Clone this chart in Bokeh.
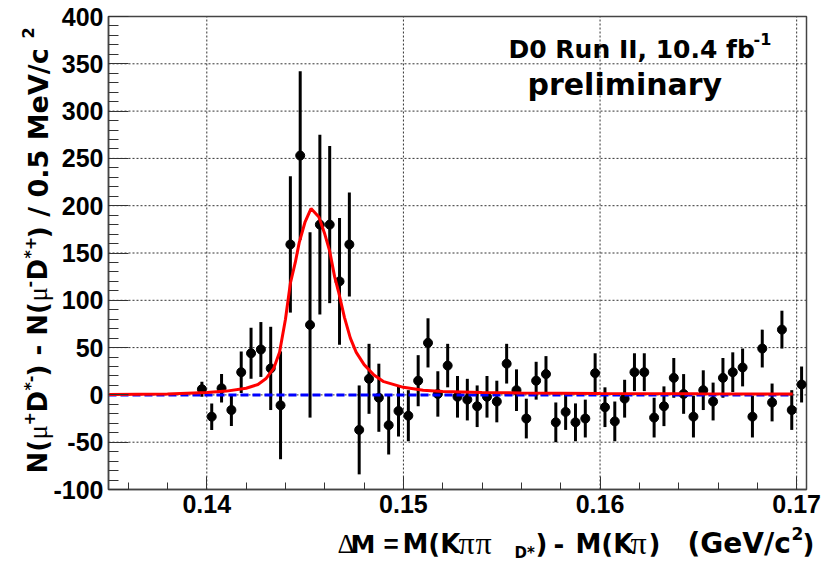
import math
from bokeh.plotting import figure
from bokeh.models import Range1d, FixedTicker, Label, ColumnDataSource, LinearAxis, Grid
from bokeh.embed import file_html
from bokeh.resources import INLINE

# Delta-M bin centres (GeV/c^2), 0.5 MeV bins
dm = [0.13975, 0.14025, 0.14075, 0.14125, 0.14175, 0.14225, 0.14275, 0.14325,
      0.14375, 0.14425, 0.14475, 0.14525, 0.14575, 0.14625, 0.14675, 0.14725,
      0.14775, 0.14825, 0.14875, 0.14925, 0.14975, 0.15025, 0.15075, 0.15125,
      0.15175, 0.15225, 0.15275, 0.15325, 0.15375, 0.15425, 0.15475, 0.15525,
      0.15575, 0.15625, 0.15675, 0.15725, 0.15775, 0.15825, 0.15875, 0.15925,
      0.15975, 0.16025, 0.16075, 0.16125, 0.16175, 0.16225, 0.16275, 0.16325,
      0.16375, 0.16425, 0.16475, 0.16525, 0.16575, 0.16625, 0.16675, 0.16725,
      0.16775, 0.16825, 0.16875, 0.16925, 0.16975, 0.17025]

# N(mu+ D*-) - N(mu- D*+) per bin
diff = [6, -23, 7, -16, 24, 44, 48, 28,
        -11, 159, 253, 74, 180, 180, 120, 159,
        -37, 17, -3, -32, -17, -22, 15, 55,
        1, 31, -2, -5, -12, -2, -7, 33,
        5, -25, 15, 22, -29, -18, -29, -25,
        23, -13, -28, -4, 24, 24, -24, -12,
        18, 1, -23, 5, -7, 18, 24, 29,
        -23, 49, -8, 69, -16, 11]

err = [8, 14, 15, 17, 22, 27, 29, 44,
       57, 72, 89, 98, 95, 83, 67, 55,
       47, 37, 36, 31, 27, 27, 27, 26,
       24, 23, 22, 22, 22, 22, 22, 21,
       22, 21, 20, 19, 21, 19, 20, 20,
       21, 21, 21, 20, 20, 20, 21, 21,
       21, 21, 22, 21, 20, 21, 21, 20,
       22, 20, 20, 20, 21, 19]

# fitted signal + background curve
fit_x = [0.1350, 0.1380, 0.1400, 0.1410, 0.1420, 0.1426, 0.1430, 0.1434, 0.1437,
         0.1440, 0.14425, 0.1445, 0.1447, 0.1450, 0.1453, 0.1457, 0.1460, 0.14625,
         0.1465, 0.1467, 0.1470, 0.1473, 0.1476, 0.1480, 0.1485, 0.1490, 0.1500,
         0.1510, 0.1520, 0.1540, 0.1560, 0.1600, 0.1650, 0.1698]
fit_y = [0.5, 1, 2.5, 4, 7, 11, 17, 28, 45,
         80, 118, 140, 161, 183, 197, 188, 170, 152,
         125, 109, 82, 60, 45, 32, 21, 14, 8,
         5, 3.5, 2.5, 2, 1.5, 1.2, 1]

# background component
bkg_x = [0.1350, 0.1698]
bkg_y = [0, 0]

x_ticks = [0.14, 0.15, 0.16, 0.17]
y_ticks = [-100, -50, 0, 50, 100, 150, 200, 250, 300, 350, 400]
x_grid = [0.14, 0.15, 0.16, 0.17]
y_grid = [-50, 0, 50, 100, 150, 200, 250, 300, 350]

# axis box in data units and where it sits on the canvas (pixels)
X0, X1, Y0, Y1 = 0.135, 0.1705, -100, 400
W, H = 826, 564
BOX_L, BOX_R, BOX_T, BOX_B = 108, 806, 16, 489
SX = (X1 - X0) / (BOX_R - BOX_L)
SY = (Y1 - Y0) / (BOX_B - BOX_T)


def dx(px):
    return X0 + (px - BOX_L) * SX


def dy(py):
    return Y0 + (BOX_B - py) * SY


p = figure(width=W, height=H,
           x_range=Range1d(dx(0), dx(W)), y_range=Range1d(dy(H), dy(0)),
           output_backend="svg", toolbar_location=None, title=None,
           x_axis_location=None, y_axis_location=None,
           min_border=0, min_border_left=0, min_border_right=0,
           min_border_top=0, min_border_bottom=0)
p.center = [r for r in p.center if not isinstance(r, Grid)]
p.background_fill_color = "white"
p.border_fill_color = "white"
p.outline_line_color = None

# dotted grid inside the axis box
p.segment(x0=x_grid, x1=x_grid, y0=[Y0] * len(x_grid), y1=[Y1] * len(x_grid),
          line_color="#333333", line_width=1, line_dash="2 2")
p.segment(x0=[X0] * len(y_grid), x1=[X1] * len(y_grid), y0=y_grid, y1=y_grid,
          line_color="#333333", line_width=1, line_dash="2 2")

# axes pinned to the box edges
xaxis = LinearAxis(fixed_location=Y0, bounds=(X0, X1),
                   ticker=FixedTicker(ticks=x_ticks,
                                      minor_ticks=[round(0.136 + 0.002 * i, 4) for i in range(18)]))
yaxis = LinearAxis(fixed_location=X0, bounds=(Y0, Y1),
                   ticker=FixedTicker(ticks=y_ticks, minor_ticks=list(range(-100, 401, 10))))
xaxis.major_label_overrides = {t: f"{t:.2f}" for t in x_ticks}
yaxis.major_label_overrides = {t: str(t) for t in y_ticks}
for ax in (xaxis, yaxis):
    ax.major_tick_out = 0
    ax.minor_tick_out = 0
    ax.major_tick_line_color = "#333333"
    ax.minor_tick_line_color = "#333333"
    ax.axis_line_color = "#444444"
    ax.axis_line_width = 1.5
    ax.major_label_text_font = "Liberation Sans"
    ax.major_label_text_font_style = "bold"
    ax.major_label_text_font_size = "25px"
    ax.major_label_text_color = "black"
xaxis.major_tick_in = 13
xaxis.minor_tick_in = 7
yaxis.major_tick_in = 20
yaxis.minor_tick_in = 10
xaxis.major_label_standoff = 5
yaxis.major_label_standoff = 5
p.add_layout(xaxis, "below")
p.add_layout(yaxis, "left")

# top and right edges of the box
p.quad(left=[X0], right=[X1], bottom=[Y0], top=[Y1], fill_color=None,
       line_color="#444444", line_width=1.5)

# data points with vertical error bars
src = ColumnDataSource(dict(x=dm, y=diff,
                            lo=[v - e for v, e in zip(diff, err)],
                            hi=[v + e for v, e in zip(diff, err)]))
p.segment(x0="x", y0="lo", x1="x", y1="hi", source=src, line_color="black", line_width=3)
p.scatter(x="x", y="y", source=src, size=9, color="black", marker="circle")

# background and total fit
p.line(bkg_x, bkg_y, line_color="#0000ff", line_width=3, line_dash="8 4")
p.line(fit_x, fit_y, line_color="#ff0000", line_width=3)

SANS, SERIF, ARIAL = "DejaVu Sans", "Liberation Serif", "Liberation Sans"
DROP = 0.27  # distance from the label anchor down to the glyph baseline, in ems


def put(text, px, py, size, font=SANS, style="bold"):
    """Horizontal text whose baseline starts at canvas pixel (px, py)."""
    p.add_layout(Label(x=dx(px), y=dy(py - DROP * size), text=text, text_font=font,
                       text_font_size=f"{size}px", text_font_style=style,
                       text_color="black", text_align="left",
                       text_baseline="alphabetic"))


def put_up(text, px, py, size, font=SANS, style="bold"):
    """Text running upwards, baseline on the vertical line x = px, starting at py."""
    p.add_layout(Label(x=dx(px - DROP * size), y=dy(py), text=text, text_font=font,
                       text_font_size=f"{size}px", text_font_style=style,
                       text_color="black", text_align="left",
                       text_baseline="alphabetic", angle=math.pi / 2))


# x-axis title: Delta M = M(K pi pi_D*) - M(K pi)   (GeV/c^2)
xb = 551
for txt, px, size, font, style, base in [
        ("\u0394", 337, 27, SERIF, "normal", xb),
        ("M", 350, 25, SANS, "bold", xb),
        ("=", 383, 26, ARIAL, "bold", xb),
        ("M(K", 402, 26, SANS, "bold", xb),
        ("\u03c0", 458, 32, SERIF, "normal", xb),
        ("\u03c0", 475, 32, SERIF, "normal", xb),
        ("D*", 514, 15, SANS, "bold", xb + 6),
        (")", 535, 26, SANS, "bold", xb),
        ("-", 553, 26, SANS, "bold", xb),
        ("M(K", 575, 26, SANS, "bold", xb),
        ("\u03c0", 630, 32, SERIF, "normal", xb),
        (")", 648, 26, SANS, "bold", xb),
        ("(GeV/c", 687, 28, SANS, "bold", xb),
        ("2", 791, 17, SANS, "bold", xb - 13),
        (")", 802, 26, SANS, "bold", xb)]:
    put(txt, px, base, size, font, style)

# y-axis title, rotated, built from the bottom up
yb = 45
for txt, py, size, font, style, base in [
        ("N(", 473, 26, SANS, "bold", yb),
        ("\u03bc", 439, 27, SERIF, "normal", yb),
        ("+", 425, 16, SANS, "bold", yb - 12),
        ("D", 412, 26, SANS, "bold", yb),
        ("*-", 390, 16, SANS, "bold", yb - 11),
        (") - N(", 376, 26, SANS, "bold", yb),
        ("\u03bc", 301, 27, SERIF, "normal", yb),
        ("-", 287, 16, SANS, "bold", yb - 12),
        ("D", 280, 26, SANS, "bold", yb),
        ("*+", 258, 16, SANS, "bold", yb - 11),
        (")  / 0.5 MeV/c", 238, 27, SANS, "bold", yb),
        ("2", 38, 16, SANS, "bold", yb - 13)]:
    put_up(txt, base, py, size, font, style)

# experiment label
put("D0 Run II, 10.4 fb", 508, 56, 25)
put("-1", 753, 43, 16)
put("preliminary", 527, 92, 30)

open("out.html", "w").write(file_html(p, INLINE))
